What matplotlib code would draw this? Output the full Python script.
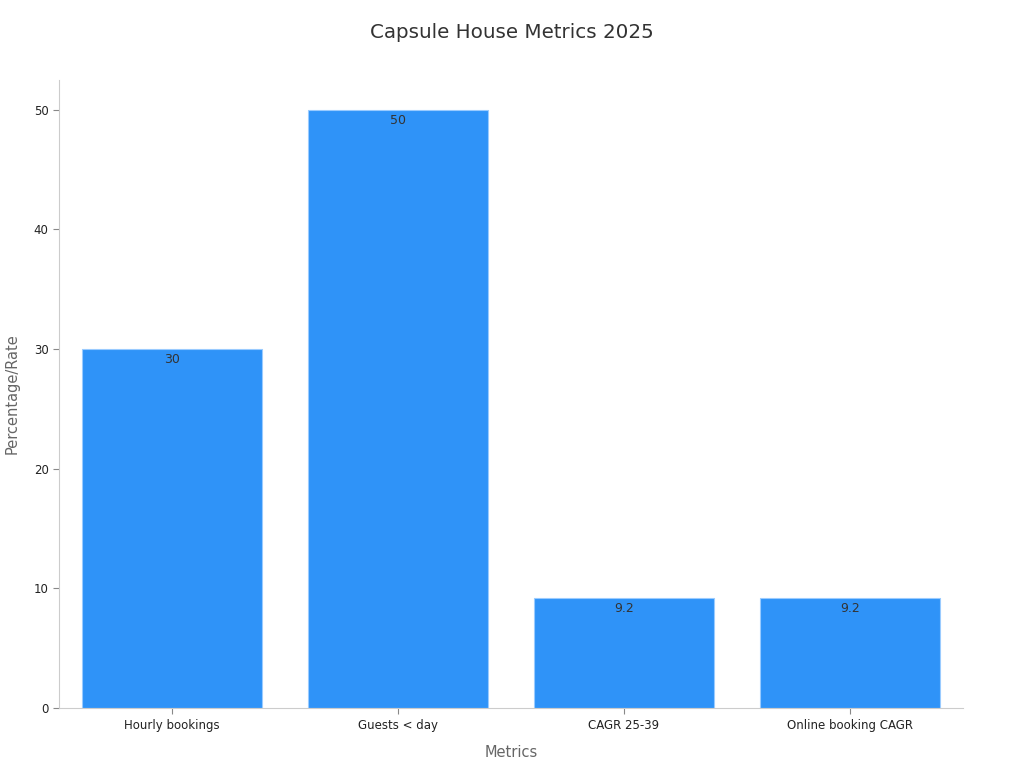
import matplotlib
matplotlib.use("Agg")
import matplotlib.pyplot as plt

categories = ["Hourly bookings", "Guests < day", "CAGR 25-39", "Online booking CAGR"]
values = [30, 50, 9.2, 9.2]
value_labels = ["30", "50", "9.2", "9.2"]

fig = plt.figure(figsize=(10.24, 7.68), dpi=100)
ax = fig.add_axes([0.0576, 0.078, 0.8828, 0.818])

x = range(len(categories))
bars = ax.bar(x, values, width=0.8, color="#2F93F8", edgecolor="#9ACBFF", linewidth=0.8)

for b, lab in zip(bars, value_labels):
    ax.annotate(lab, (b.get_x() + b.get_width() / 2, b.get_height()),
                xytext=(0, -3), textcoords="offset points",
                ha="center", va="top", fontsize=9, color="#333333")

ax.set_xlim(-0.5, 3.5)
ax.set_ylim(0, 52.5)
ax.set_xticks(list(x))
ax.set_xticklabels(categories)
ax.set_yticks([0, 10, 20, 30, 40, 50])

for s in ["top", "right"]:
    ax.spines[s].set_visible(False)
for s in ["left", "bottom"]:
    ax.spines[s].set_color("#cccccc")
ax.tick_params(axis="both", colors="#888888", labelcolor="#222222", labelsize=8.5, length=4)

ax.set_xlabel("Metrics", fontsize=10.5, color="#666666", labelpad=10)
ax.set_ylabel("Percentage/Rate", fontsize=10.5, color="#666666", labelpad=10)
fig.suptitle("Capsule House Metrics 2025", fontsize=14.3, color="#333333", y=0.97)

fig.savefig("out.png", dpi=100)
